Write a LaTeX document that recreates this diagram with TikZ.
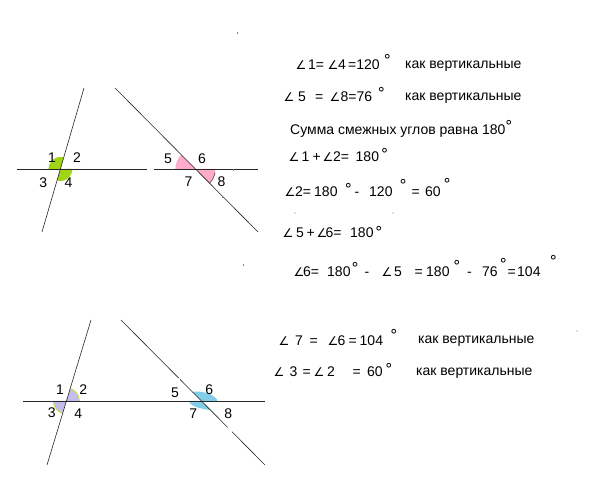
\documentclass[tikz,border=0pt]{standalone}
\usepackage{fontspec}
\usetikzlibrary{calc}
\setmainfont{Liberation Sans}
\newfontfamily\djv{DejaVu Sans}
\newcommand\angs{{\djv\fontsize{12}{12}\selectfont ∠}}
\newcommand\dg[1]{\raisebox{#1pt}{\djv\fontsize{15}{15}\selectfont °}}
\newcommand\tk[2]{\rlap{\hspace*{#1pt}#2}}
\definecolor{grn}{RGB}{160,212,20}
\definecolor{pnk}{RGB}{255,172,202}
\definecolor{lav}{RGB}{198,188,236}
\definecolor{cyn}{RGB}{130,206,232}
\definecolor{ylg}{RGB}{196,232,40}
\begin{document}
\begin{tikzpicture}[x=1pt,y=1pt,
  ln/.style={line width=0.6pt,black!85},
  txt/.style={anchor=base west,inner sep=0pt,font=\fontsize{14}{16}\selectfont},
  lbl/.style={inner sep=0pt,font=\fontsize{14}{16}\selectfont},
  speck/.style={fill=black!50}]
\useasboundingbox (0,0) rectangle (600,497);
% ---------- top figure ----------
\coordinate (h1a) at (17,328); \coordinate (h1b) at (147,328);
\coordinate (h2a) at (154,328); \coordinate (h2b) at (258,328);
\coordinate (t1a) at (84,409); \coordinate (t1b) at (42,265);
\coordinate (t2a) at (115,409); \coordinate (t2b) at (258,265);
\coordinate (A) at (60.4,328);
\coordinate (B) at (195.4,328);
\fill[grn] (A) -- ++(73.8:12) arc[start angle=73.8,end angle=180,radius=12] -- cycle;
\fill[grn] (A) -- ++(253.8:12) arc[start angle=253.8,end angle=360,radius=12] -- cycle;
\fill[pnk] (B) -- ++(134.8:20) arc[start angle=134.8,end angle=180,radius=20] -- cycle;
\fill[pnk] (B) -- ++(314.8:20) arc[start angle=314.8,end angle=360,radius=20] -- cycle;
\draw[black!70,line width=0.6pt] (B) ++(314.8:20) arc[start angle=314.8,end angle=350,radius=20];
\draw[ln] (h1a) -- (h1b);
\draw[ln] (h2a) -- (h2b);
\draw[ln] (t1a) -- (t1b);
\draw[ln] (t2a) -- (t2b);
\node[lbl] (n1) at (52,339.5) {1};
\node[lbl] (n2) at (77,339.5) {2};
\node[lbl] (n3) at (43.3,314.5) {3};
\node[lbl] (n4) at (68.5,314) {4};
\node[lbl] (n5) at (168,338) {5};
\node[lbl] (n6) at (202,338.5) {6};
\node[lbl] (n7) at (188.5,315) {7};
\node[lbl] (n8) at (221.5,315) {8};
% ---------- bottom figure ----------
\coordinate (ha) at (23,96); \coordinate (hb) at (265,96);
\coordinate (u1a) at (91,177); \coordinate (u1b) at (47,32);
\coordinate (u2a) at (121,177); \coordinate (u2b) at (265,32);
\coordinate (C) at (66.4,96);
\coordinate (D) at (201.4,96);
\fill[lav] (C) -- ++(0:13) arc[start angle=0,end angle=73.1,radius=13] -- cycle;
\fill[lav] (C) -- ++(180:13) arc[start angle=180,end angle=253.1,radius=13] -- cycle;
\draw[ylg,line width=0.8pt] (C) ++(0:13) arc[start angle=0,end angle=73.1,radius=13];
\draw[ylg,line width=0.8pt] (C) ++(180:13) arc[start angle=180,end angle=253.1,radius=13];
\fill[cyn] (D) -- (192.4,105) .. controls (200,106.5) and (212,104) .. (217,97.5) -- (217,96) -- cycle;
\fill[cyn] (D) -- (189,96) .. controls (190,91) and (200,88) .. (210.4,87) -- cycle;
\draw[ln] (ha) -- (hb);
\draw[ln] (u1a) -- (u1b);
\draw[ln] (u2a) -- ($(u2a)!0.40!(u2b)$);
\draw[ln] ($(u2a)!0.41!(u2b)$) -- ($(u2a)!0.74!(u2b)$);
\draw[ln] ($(u2a)!0.77!(u2b)$) -- (u2b);
\node[lbl] (m1) at (60,107) {1};
\node[lbl] (m2) at (83.3,107.5) {2};
\node[lbl] (m3) at (51.7,84.3) {3};
\node[lbl] (m4) at (78.3,83.7) {4};
\node[lbl] (m5) at (175,104.3) {5};
\node[lbl] (m6) at (209.3,107) {6};
\node[lbl] (m7) at (193.3,83.7) {7};
\node[lbl] (m8) at (228.3,83.7) {8};
% ---------- text ----------
\node[txt] (e1) at (295,427) {\tk{0}{\angs}\tk{12.5}{1=}\tk{32}{\angs}\tk{42.5}{4}\tk{52.5}{=120}\tk{87.9}{\dg{4.1}}};
\node[txt] (k1) at (405,428.5) {как вертикальные};
\node[txt] (e2) at (283,395.5) {\tk{0}{\angs}\tk{14.5}{5}\tk{31.5}{=}\tk{46}{\angs}\tk{57}{8=76}\tk{93.9}{\dg{2.5}}};
\node[txt] (k2) at (405,396.5) {как вертикальные};
\node[txt] (e3) at (290,362) {Сумма смежных углов равна 180};
\node[txt] (e3d) at (505,362) {\dg{3}};
\node[txt] (e4) at (288,335) {\tk{0}{\angs}\tk{13}{1}\tk{24}{+}\tk{34}{\angs}\tk{44.5}{2=}\tk{67}{180}\tk{92.2}{\dg{2.8}}};
\node[txt] (e5) at (284,300) {\tk{0}{\angs}\tk{10.5}{2=}\tk{29.5}{180}\tk{60}{\dg{2.8}}\tk{70}{-}\tk{84.5}{120}\tk{114.7}{\dg{6.1}}\tk{127}{=}\tk{140.5}{60}\tk{158.7}{\dg{7.8}}};
\fill[speck] (295,284) circle (0.7);
\fill[speck] (393,284) circle (0.7);
\node[txt] (e7) at (282,259) {\tk{0}{\angs}\tk{13.5}{5}\tk{24}{+}\tk{34}{\angs}\tk{43}{6=}\tk{67.5}{180}\tk{92.5}{\dg{0.5}}};
\node[txt] (e8) at (293,220) {\tk{0}{\angs}\tk{9.5}{6=}\tk{33.5}{180}\tk{57.7}{\dg{3.8}}\tk{71}{-}\tk{88}{\angs}\tk{100.5}{5}\tk{121}{=}\tk{132.5}{180}\tk{159.4}{\dg{5.5}}\tk{173.5}{-}\tk{188.5}{76}\tk{206}{\dg{7.1}}\tk{214}{=}\tk{223.5}{104}\tk{256}{\dg{10.5}}};
\node[txt] (e9) at (278,151.5) {\tk{0}{\angs}\tk{16.5}{7}\tk{31}{=}\tk{49}{\angs}\tk{59}{6}\tk{70}{=}\tk{81}{104}\tk{111.5}{\dg{5.1}}};
\node[txt] (k9) at (418,153.5) {как вертикальные};
\node[txt] (e10) at (273,120) {\tk{0}{\angs}\tk{16}{3}\tk{29}{=}\tk{40}{\angs}\tk{53.5}{2}\tk{79}{=}\tk{93.5}{60}\tk{111.5}{\dg{2.8}}};
\node[txt] (k10) at (416,121.5) {как вертикальные};
% stray specks
\fill[speck] (237,463) rectangle ++(1,2);
\fill[speck] (243,231) rectangle ++(1,2);
\fill[speck] (577,166) circle (0.6);
\fill[speck] (233,326) rectangle ++(1,1.5);
\fill[speck] (222,299) rectangle ++(1,2);
\end{tikzpicture}
\end{document}
